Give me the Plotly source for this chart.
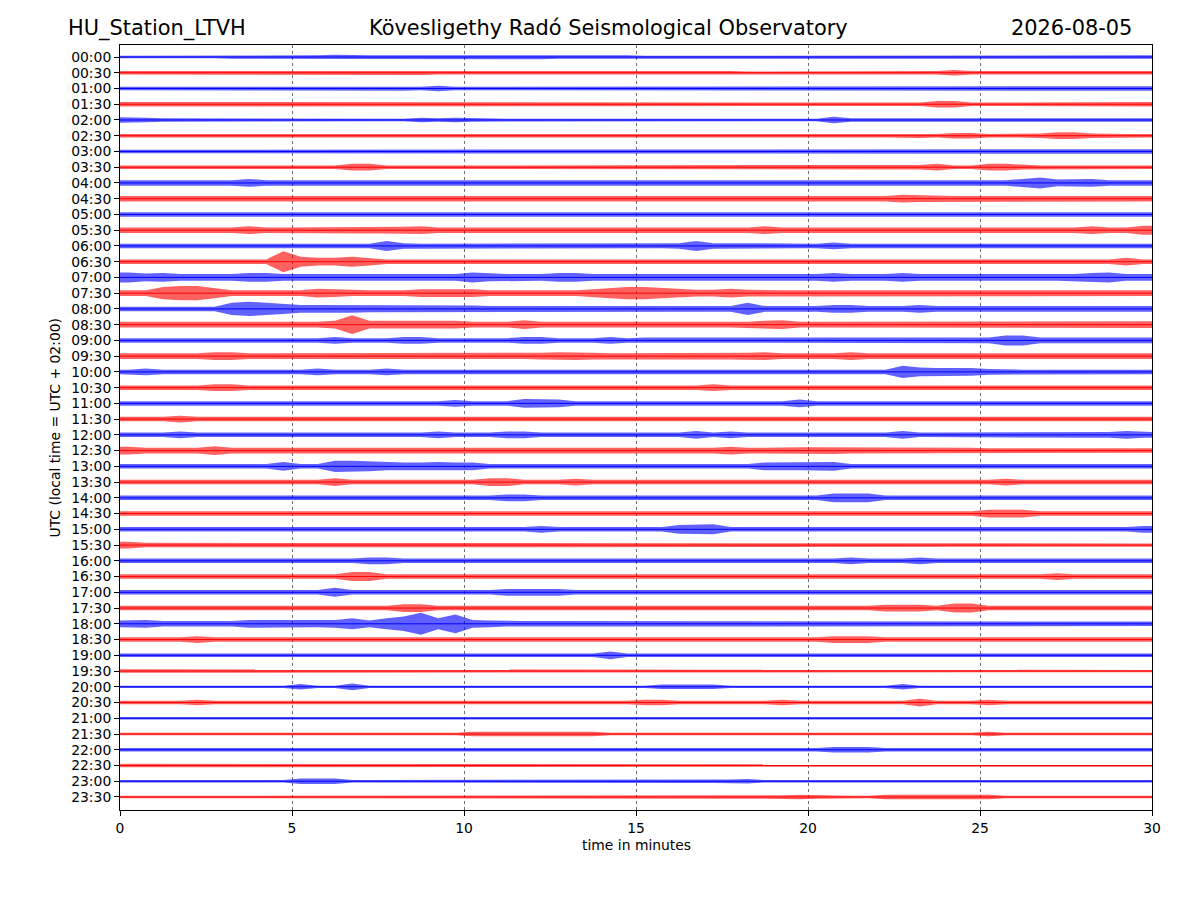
import plotly.graph_objects as go

# ---------------- data ----------------
title_left = "HU_Station_LTVH"
title_center = "Kövesligethy Radó Seismological Observatory"
title_right = "2026-08-05"
x_title = "time in minutes"
y_title = "UTC (local time = UTC + 02:00)"

x_ticks = [0, 5, 10, 15, 20, 25, 30]

row_labels = ["00:00", "00:30", "01:00", "01:30", "02:00", "02:30", "03:00", "03:30",
              "04:00", "04:30", "05:00", "05:30", "06:00", "06:30", "07:00", "07:30",
              "08:00", "08:30", "09:00", "09:30", "10:00", "10:30", "11:00", "11:30",
              "12:00", "12:30", "13:00", "13:30", "14:00", "14:30", "15:00", "15:30",
              "16:00", "16:30", "17:00", "17:30", "18:00", "18:30", "19:00", "19:30",
              "20:00", "20:30", "21:00", "21:30", "22:00", "22:30", "23:00", "23:30"]

# trace envelope (half amplitude, in half-pixel units) per 30-second bin, 60 bins per row
a0000 = [1,1,1,1,1,1,2,2,2,2, 2,2,3,2,2,2,2,2,3,3, 2,2,3,3,3,2,2,2,2,2, 1,1,1,1,1,1,1,1,1,1, 1,1,1,1,1,2,1,1,1,1, 2,2,2,2,2,2,2,2,2,2]
a0030 = [2,2,2,2,3,2,2,3,2,2, 2,2,3,3,2,2,3,3,2,2, 2,2,2,2,2,2,2,2,2,2, 2,2,2,2,2,2,1,1,2,2, 2,2,2,2,2,2,2,2,4,2, 2,2,2,2,2,2,2,2,2,2]
a0100 = [2,2,2,2,3,2,2,2,2,2, 2,2,3,3,3,3,3,2,4,2, 2,2,2,2,2,2,2,2,2,2, 2,2,2,2,2,2,2,2,2,2, 2,2,2,2,2,2,2,2,2,2, 2,2,2,2,2,2,2,2,2,3]
a0130 = [3,2,2,2,2,2,2,2,2,2, 2,2,2,2,2,2,3,3,2,2, 2,2,2,2,2,2,2,2,2,2, 2,2,2,2,2,2,2,2,2,2, 2,2,2,2,2,2,2,5,5,2, 2,3,3,3,2,2,2,2,2,3]
a0200 = [4,3,2,2,2,1,1,1,1,1, 1,1,1,1,1,1,1,3,2,3, 2,2,1,1,1,1,1,1,1,1, 1,1,1,1,1,1,1,1,1,1, 1,5,2,2,2,2,2,2,2,2, 2,2,2,2,2,2,2,2,2,2]
a0230 = [2,3,2,2,2,2,3,2,2,2, 2,2,2,2,2,2,2,2,3,3, 2,2,2,2,2,2,2,2,3,2, 2,2,2,2,2,2,2,2,3,3, 2,2,2,2,2,2,3,2,4,4, 2,2,2,3,5,5,3,2,2,2]
a0300 = [2,2,2,2,2,2,2,2,2,2, 2,2,2,2,2,2,2,2,2,2, 2,2,2,2,2,2,2,2,2,2, 2,2,2,2,2,2,2,2,2,2, 2,2,2,2,2,2,2,2,2,2, 2,3,2,2,2,2,2,3,3,3]
a0330 = [2,2,3,2,2,2,2,2,2,2, 2,2,2,5,5,2,2,2,2,2, 2,3,2,2,2,2,2,2,2,2, 2,2,2,2,2,2,2,2,2,2, 2,2,2,3,3,3,3,5,2,2, 5,5,3,2,2,2,2,2,2,2]
a0400 = [4,4,4,4,4,4,4,6,4,4, 4,4,4,4,4,4,4,4,4,4, 4,4,4,4,4,4,4,4,4,4, 4,4,4,4,4,4,4,4,4,4, 4,4,4,4,4,4,4,4,4,4, 4,4,6,9,5,6,6,4,4,4]
a0430 = [4,4,4,4,4,4,4,4,4,4, 4,4,4,4,4,4,4,4,4,4, 4,4,4,4,4,4,4,4,4,4, 4,4,4,4,4,4,4,4,4,4, 4,4,4,4,4,6,5,4,4,4, 4,4,4,4,4,4,4,4,4,4]
a0500 = [3,3,3,3,3,3,3,3,3,3, 3,3,3,3,3,3,3,3,3,3, 3,3,3,3,3,3,3,3,3,3, 3,3,4,3,3,3,3,3,3,3, 3,3,3,3,3,3,3,3,3,3, 3,3,3,3,3,3,3,3,3,3]
a0530 = [4,4,4,4,4,4,4,6,4,4, 4,4,4,5,5,5,5,6,4,4, 4,4,4,4,4,4,4,4,4,4, 4,4,4,4,4,4,4,6,4,4, 4,4,4,4,4,4,4,4,4,4, 4,4,4,4,4,4,6,4,4,7]
a0600 = [3,3,3,3,3,3,3,3,3,3, 3,3,3,3,3,8,4,3,3,3, 3,3,3,3,3,3,3,3,3,3, 3,3,4,8,4,4,4,3,3,3, 3,5,3,3,3,3,3,3,3,3, 3,3,3,3,3,3,3,3,3,3]
a0630 = [3,3,3,3,3,3,3,3,3,18, 8,6,6,8,6,3,3,3,3,3, 3,3,3,3,3,3,3,3,3,3, 3,3,3,3,3,3,3,3,3,3, 3,3,3,3,3,3,3,3,3,3, 3,3,3,3,3,3,3,3,6,3]
a0700 = [8,6,7,5,5,5,5,7,7,5, 5,5,5,5,5,5,6,5,5,5, 8,6,5,5,5,7,7,5,5,5, 5,5,5,5,5,5,5,5,5,5, 5,7,5,5,5,7,5,5,5,5, 5,5,5,5,5,5,7,8,5,5]
a0730 = [4,4,10,12,12,8,4,4,4,4, 4,7,6,4,4,4,4,6,6,6, 6,4,4,4,4,4,4,6,8,10, 10,8,6,5,5,7,5,4,4,4, 4,4,4,4,4,4,4,4,4,4, 4,4,4,4,4,4,4,4,4,4]
a0800 = [3,3,3,3,3,3,10,12,10,8, 6,6,6,6,5,5,5,5,5,5, 5,4,4,4,4,4,4,4,4,4, 4,4,4,4,4,4,10,4,4,4, 4,6,6,4,4,4,6,4,4,4, 4,4,4,4,4,4,4,4,4,4]
a0830 = [4,4,4,4,4,4,4,4,4,4, 4,4,6,16,6,6,6,6,6,6, 4,4,4,7,4,4,4,4,4,4, 4,4,4,4,4,4,4,6,7,4, 4,4,4,4,4,4,4,4,4,4, 4,4,4,4,4,4,4,4,5,5]
a0900 = [3,3,3,3,3,3,3,3,3,3, 3,3,5,3,3,3,5,5,3,3, 3,3,3,5,5,3,3,3,5,3, 4,4,4,4,4,4,4,4,4,4, 4,4,4,4,4,4,4,4,4,4, 4,8,8,4,4,4,4,4,4,4]
a0930 = [4,4,4,4,4,6,6,4,4,4, 4,4,4,4,4,4,4,4,4,4, 5,5,4,4,5,6,6,5,4,4, 4,4,4,5,5,5,5,6,4,4, 4,4,6,4,4,4,4,4,4,4, 4,4,4,4,4,4,4,4,4,4]
a1000 = [3,5,3,3,3,3,3,3,3,3, 3,5,3,3,3,5,3,3,3,3, 3,3,3,3,3,3,3,3,3,3, 3,3,3,3,3,3,3,3,3,3, 3,3,3,3,3,10,7,6,6,6, 4,3,3,3,3,3,3,3,3,3]
a1030 = [3,3,3,3,3,5,5,3,3,3, 3,3,3,3,3,3,3,3,3,3, 3,3,3,3,3,3,3,3,3,3, 3,3,3,3,5,3,3,3,3,3, 3,4,3,3,3,3,3,3,3,3, 3,3,3,3,3,3,3,3,3,3]
a1100 = [3,3,3,3,3,3,3,3,3,3, 3,3,3,3,3,3,3,3,3,5, 3,3,3,7,7,6,3,3,3,3, 3,3,3,3,3,3,3,3,3,6, 3,3,3,3,3,3,3,3,3,3, 3,3,3,3,3,3,3,3,3,3]
a1130 = [3,3,3,5,3,3,3,3,3,3, 3,3,3,3,3,3,3,3,3,3, 3,3,3,3,3,3,3,3,3,3, 3,3,3,3,3,3,3,3,3,3, 3,3,3,3,3,3,3,3,3,3, 3,3,3,3,3,3,3,3,3,3]
a1200 = [3,3,3,5,3,3,3,3,3,3, 3,3,3,3,3,3,3,3,5,3, 3,3,5,5,3,3,3,3,3,3, 3,3,3,6,3,5,3,3,3,3, 3,3,3,3,3,6,3,3,3,3, 4,4,4,4,4,4,4,4,6,4]
a1230 = [6,4,4,4,4,7,4,4,4,4, 4,4,4,4,4,4,4,4,4,4, 4,4,4,4,4,4,4,4,4,4, 4,4,4,4,4,6,4,4,5,5, 5,5,4,4,4,4,4,4,4,4, 3,3,3,3,3,3,3,3,3,3]
a1300 = [3,3,3,3,3,3,3,3,3,7, 3,3,9,9,8,6,6,6,7,6, 6,3,3,3,3,3,3,3,3,3, 3,3,3,3,3,3,3,6,6,6, 6,7,3,3,3,3,3,3,3,3, 3,3,3,3,3,3,3,3,3,3]
a1330 = [3,3,3,3,3,3,3,3,3,3, 3,3,6,3,3,3,3,3,3,3, 3,6,6,3,3,3,5,3,3,3, 3,3,3,3,3,3,3,3,3,3, 3,3,3,3,3,3,3,3,3,3, 3,5,3,3,3,3,3,3,3,3]
a1400 = [3,3,3,3,3,3,3,3,3,3, 3,3,3,3,3,3,3,3,3,3, 3,3,5,5,3,3,3,3,3,3, 3,3,3,3,3,3,3,3,3,3, 3,7,7,7,3,3,3,3,3,3, 3,3,3,3,3,3,3,3,3,3]
a1430 = [3,3,3,3,3,3,3,3,3,3, 3,3,3,3,3,3,3,3,3,3, 3,3,3,3,3,3,3,3,3,3, 3,3,3,3,3,3,3,3,3,3, 3,3,3,3,3,3,3,3,3,3, 6,6,6,3,3,3,3,3,3,3]
a1500 = [3,3,3,3,3,3,3,3,3,3, 3,3,3,3,3,3,3,3,3,3, 3,3,3,3,5,3,3,3,3,3, 3,3,7,7,8,3,3,3,3,3, 3,3,3,3,3,3,3,3,3,3, 3,3,3,3,3,3,3,3,3,5]
a1530 = [5,3,3,3,3,3,3,3,3,3, 3,3,3,3,3,3,3,3,3,3, 3,3,3,3,3,3,3,3,3,3, 2,2,2,2,2,2,2,2,2,2, 2,2,2,2,2,2,2,2,2,2, 2,2,2,2,2,2,2,2,2,2]
a1600 = [3,3,3,3,3,3,3,3,3,3, 3,3,3,3,5,5,3,3,3,3, 3,3,3,3,3,3,3,3,3,3, 3,3,3,3,3,3,3,3,3,3, 3,3,5,3,3,3,5,3,3,3, 3,3,3,3,3,3,3,3,3,3]
a1630 = [3,3,3,3,3,3,3,3,3,3, 3,3,3,7,7,3,3,3,3,3, 3,3,3,3,3,3,3,3,3,3, 3,3,3,3,3,3,3,3,3,3, 3,3,3,3,3,3,3,3,3,3, 3,3,3,3,5,3,3,3,3,3]
a1700 = [3,3,3,3,3,3,3,3,3,3, 3,3,7,3,3,3,3,3,3,3, 3,3,5,5,5,5,3,3,3,3, 3,3,3,3,3,3,3,3,3,3, 3,3,3,3,3,3,3,3,3,3, 3,3,3,3,3,3,3,3,3,3]
a1730 = [3,3,3,3,3,3,3,3,3,3, 3,3,3,3,3,3,6,6,3,3, 3,3,3,3,3,3,3,3,3,3, 3,3,3,3,3,3,3,3,3,3, 3,3,3,3,5,5,5,3,7,7, 3,3,3,3,3,3,3,3,3,3]
a1800 = [5,6,4,4,4,4,4,6,6,6, 5,5,6,9,5,9,12,19,9,16, 6,5,4,4,4,4,4,4,3,3, 3,3,3,3,3,3,3,3,3,3, 3,3,3,3,3,3,3,3,3,3, 3,3,3,3,3,3,3,3,3,3]
a1830 = [3,3,3,3,5,3,3,3,3,3, 3,3,3,3,3,3,3,3,3,3, 3,3,3,3,3,3,3,3,3,3, 3,3,3,3,3,3,3,3,3,3, 3,5,5,5,3,3,3,3,3,3, 3,3,3,3,3,3,3,3,3,3]
a1900 = [2,2,2,2,2,2,2,2,2,2, 2,2,2,2,2,2,2,2,2,2, 2,2,2,2,2,2,2,2,6,2, 2,2,2,2,2,2,2,2,2,2, 2,2,2,2,2,2,2,2,2,2, 2,2,2,2,2,2,2,2,2,2]
a1930 = [2,2,2,2,2,2,2,2,2,2, 2,2,2,2,2,2,2,2,2,2, 2,2,2,2,2,2,2,2,2,2, 1,1,1,1,1,1,1,1,1,1, 1,1,1,1,1,1,1,1,1,1, 1,1,1,1,1,1,1,1,1,1]
a2000 = [1,1,1,1,1,1,1,1,1,1, 4,1,1,5,1,1,1,1,1,1, 1,1,1,1,1,1,1,1,1,1, 1,3,3,3,3,1,1,1,1,1, 1,1,1,1,1,4,1,1,1,1, 1,1,1,1,1,1,1,1,1,1]
a2030 = [2,2,2,2,4,2,2,2,2,2, 2,3,3,3,3,3,2,2,2,2, 2,2,2,2,2,2,2,2,2,2, 4,4,2,2,2,2,2,2,4,2, 2,2,2,2,2,2,6,2,2,2, 4,2,2,2,2,2,2,2,2,2]
a2100 = [1,1,1,1,1,1,1,1,1,1, 1,1,1,1,1,1,1,1,1,1, 1,1,1,1,1,1,1,1,1,1, 1,1,1,1,1,1,1,1,1,1, 1,1,1,1,1,1,1,1,1,1, 1,1,1,1,1,1,1,1,1,1]
a2130 = [1,1,1,1,1,1,1,1,1,1, 1,1,1,1,1,1,1,1,1,1, 3,3,3,3,3,3,3,3,1,1, 1,1,1,1,1,1,1,1,1,1, 1,1,1,1,1,1,1,1,1,1, 3,1,1,1,1,1,1,1,1,1]
a2200 = [2,2,2,2,2,2,2,2,2,2, 2,2,2,2,2,2,2,2,2,2, 2,2,2,2,2,2,2,2,2,2, 2,2,2,2,2,2,2,2,2,2, 2,4,4,4,2,2,2,2,2,2, 2,2,2,2,2,2,2,2,2,2]
a2230 = [2,2,2,2,2,2,2,2,2,2, 2,2,2,2,2,2,2,2,2,2, 2,2,2,2,2,2,2,2,2,2, 1,1,1,1,1,1,1,1,1,1, 1,1,1,1,1,1,1,1,1,1, 1,1,1,1,1,1,1,1,1,1]
a2300 = [1,1,1,1,1,1,1,1,1,1, 4,4,4,1,1,1,1,1,1,1, 1,1,1,1,1,1,1,1,1,1, 2,2,2,2,2,2,3,1,1,1, 1,1,1,1,1,1,1,1,1,1, 1,1,1,1,1,1,1,1,1,1]
a2330 = [1,1,1,1,1,1,1,1,1,1, 1,1,1,1,1,1,1,1,1,1, 1,1,1,1,1,1,1,1,1,1, 1,1,1,1,2,2,2,2,2,3, 2,1,1,1,3,3,3,3,3,3, 3,1,1,1,1,1,1,1,1,1]

envelopes = [a0000, a0030, a0100, a0130, a0200, a0230, a0300, a0330,
             a0400, a0430, a0500, a0530, a0600, a0630, a0700, a0730,
             a0800, a0830, a0900, a0930, a1000, a1030, a1100, a1130,
             a1200, a1230, a1300, a1330, a1400, a1430, a1500, a1530,
             a1600, a1630, a1700, a1730, a1800, a1830, a1900, a1930,
             a2000, a2030, a2100, a2130, a2200, a2230, a2300, a2330]

# ---------------- style ----------------
ROW_PX = 15.745            # pixel distance between rows
PX = 1.0 / ROW_PX          # one pixel in row units
HALF_PX_UNIT = 0.55        # envelope unit, in pixels
BASE_PX = 0.6              # constant noise floor added to every envelope
COLORS = ["#0000ff", "#ff0000"]
FILLS = ["rgba(0,0,255,0.62)", "rgba(255,0,0,0.62)"]
FONT = "DejaVu Sans"
SMALL = 13.9
BIG = 20.9

fig = go.Figure()
minutes = 30.0
for i, env in enumerate(envelopes):
    n = len(env)
    step = minutes / n
    xs = [0.0] + [step * (j + 0.5) for j in range(n)] + [minutes]
    amps = [env[0]] + list(env) + [env[-1]]
    half = [(a * HALF_PX_UNIT + BASE_PX) * PX for a in amps]
    upper = [i - h for h in half]
    lower = [i + h for h in half]
    c = i % 2
    fig.add_trace(go.Scatter(
        x=xs + xs[::-1], y=upper + lower[::-1], mode="lines",
        fill="toself", fillcolor=FILLS[c], line=dict(width=0),
        hoverinfo="skip", showlegend=False))
    fig.add_trace(go.Scatter(
        x=[0, minutes], y=[i, i], mode="lines",
        line=dict(color=COLORS[c], width=1),
        hoverinfo="skip", showlegend=False))

# the page body adds an 8px offset, so margins compensate
fig.update_layout(
    width=1200, height=900,
    margin=dict(l=112, r=56, t=37, b=98),
    plot_bgcolor="white", paper_bgcolor="white",
    showlegend=False,
    font=dict(family=FONT, size=SMALL, color="black"),
    xaxis=dict(range=[0, 30], tickvals=x_ticks, ticktext=[str(v) for v in x_ticks],
               showgrid=True, gridcolor="#707070", griddash="dot", gridwidth=0.8,
               showline=True, linecolor="black", linewidth=1, mirror=True,
               ticks="outside", ticklen=5, tickcolor="black", zeroline=False,
               automargin=False, tickfont=dict(size=SMALL)),
    yaxis=dict(range=[47.826, -0.762], tickvals=list(range(len(row_labels))),
               ticktext=row_labels, showgrid=False,
               showline=True, linecolor="black", linewidth=1, mirror=True,
               ticks="outside", ticklen=5, tickcolor="black", zeroline=False,
               automargin=False, tickfont=dict(size=SMALL)),
    annotations=[
        dict(text=title_left, xref="paper", yref="paper", x=-0.0523, y=1.022,
             xanchor="left", yanchor="middle", showarrow=False, font=dict(size=BIG)),
        dict(text=title_center, xref="paper", yref="paper", x=0.4729, y=1.022,
             xanchor="center", yanchor="middle", showarrow=False, font=dict(size=BIG)),
        dict(text=title_right, xref="paper", yref="paper", x=0.9826, y=1.022,
             xanchor="right", yanchor="middle", showarrow=False, font=dict(size=BIG)),
        dict(text=x_title, xref="paper", yref="paper", x=0.5, y=-0.0458,
             xanchor="center", yanchor="middle", showarrow=False, font=dict(size=SMALL)),
        dict(text=y_title, xref="paper", yref="paper", x=-0.063, y=0.5,
             xanchor="center", yanchor="middle", showarrow=False, textangle=-90,
             font=dict(size=SMALL)),
    ],
)

fig.write_html("out.html")
